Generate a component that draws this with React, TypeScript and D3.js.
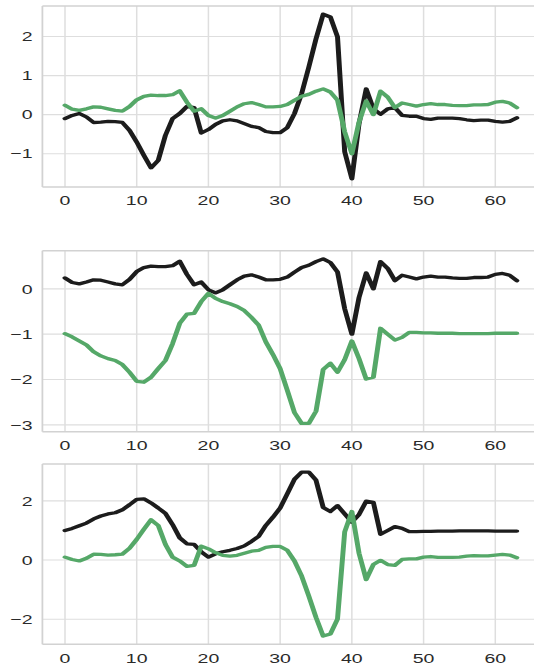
import * as d3 from "d3";

// the reference is stretched sideways, so draw in a narrower box and let the viewBox widen it
const S = 1.5;
const W = 534, H = 666;

const steps = d3.range(64);

const p1Black = [-0.10,-0.02,0.03,-0.06,-0.20,-0.19,-0.17,-0.18,-0.20,-0.40,
  -0.70,-1.04,-1.36,-1.17,-0.53,-0.10,0.03,0.21,0.18,-0.47,
  -0.38,-0.25,-0.16,-0.13,-0.16,-0.23,-0.30,-0.33,-0.43,-0.46,
  -0.46,-0.33,0.03,0.54,1.22,1.94,2.57,2.50,1.99,-0.95,
  -1.64,-0.23,0.66,0.15,0.01,0.15,0.18,-0.02,-0.04,-0.04,
  -0.10,-0.12,-0.09,-0.09,-0.09,-0.10,-0.13,-0.15,-0.14,-0.14,
  -0.17,-0.19,-0.17,-0.08];
const p1Green = [0.24,0.14,0.11,0.15,0.20,0.19,0.15,0.11,0.09,0.21,
  0.38,0.47,0.50,0.49,0.49,0.51,0.61,0.32,0.09,0.15,
  -0.02,-0.09,-0.02,0.09,0.20,0.28,0.31,0.26,0.20,0.20,
  0.21,0.26,0.37,0.47,0.52,0.60,0.66,0.58,0.37,-0.44,
  -1.00,-0.19,0.35,0.00,0.60,0.45,0.18,0.30,0.26,0.22,
  0.26,0.28,0.26,0.26,0.24,0.23,0.23,0.25,0.25,0.26,
  0.32,0.34,0.30,0.18];

const p2Black = [0.24,0.14,0.11,0.15,0.20,0.19,0.15,0.11,0.09,0.21,
  0.38,0.47,0.50,0.49,0.49,0.51,0.61,0.32,0.09,0.15,
  -0.02,-0.09,-0.02,0.09,0.20,0.28,0.31,0.26,0.20,0.20,
  0.21,0.26,0.37,0.47,0.52,0.60,0.66,0.58,0.37,-0.44,
  -1.00,-0.19,0.35,0.00,0.60,0.45,0.18,0.30,0.26,0.22,
  0.26,0.28,0.26,0.26,0.24,0.23,0.23,0.25,0.25,0.26,
  0.32,0.34,0.30,0.18];
const p2Green = [-0.99,-1.06,-1.15,-1.24,-1.39,-1.48,-1.54,-1.58,-1.67,-1.84,
  -2.04,-2.06,-1.95,-1.76,-1.58,-1.21,-0.76,-0.56,-0.54,-0.28,
  -0.10,-0.21,-0.28,-0.33,-0.39,-0.48,-0.63,-0.80,-1.17,-1.45,
  -1.76,-2.24,-2.73,-2.97,-2.97,-2.70,-1.78,-1.64,-1.84,-1.56,
  -1.15,-1.54,-1.99,-1.95,-0.87,-1.00,-1.13,-1.07,-0.96,-0.96,
  -0.97,-0.97,-0.98,-0.98,-0.98,-0.99,-0.99,-0.99,-0.99,-0.99,
  -0.98,-0.98,-0.98,-0.98];

const p3Black = [1.00,1.07,1.16,1.25,1.39,1.49,1.56,1.60,1.70,1.87,
  2.05,2.07,1.93,1.76,1.58,1.20,0.75,0.55,0.53,0.28,
  0.10,0.21,0.28,0.33,0.39,0.48,0.63,0.80,1.17,1.45,
  1.76,2.24,2.73,2.97,2.97,2.70,1.78,1.64,1.84,1.56,
  1.28,1.54,1.99,1.95,0.87,1.00,1.13,1.07,0.96,0.96,
  0.97,0.97,0.98,0.98,0.98,0.99,0.99,0.99,0.99,0.99,
  0.98,0.98,0.98,0.98];
const p3Green = [0.10,0.02,-0.03,0.06,0.20,0.19,0.17,0.18,0.20,0.40,
  0.70,1.04,1.36,1.17,0.53,0.10,-0.03,-0.21,-0.18,0.47,
  0.38,0.25,0.16,0.13,0.16,0.23,0.30,0.33,0.43,0.46,
  0.46,0.33,-0.03,-0.54,-1.22,-1.94,-2.57,-2.50,-1.99,0.95,
  1.64,0.23,-0.66,-0.15,-0.01,-0.15,-0.18,0.02,0.04,0.04,
  0.10,0.12,0.09,0.09,0.09,0.10,0.13,0.15,0.14,0.14,
  0.17,0.19,0.17,0.08];

const xTicks = [0, 10, 20, 30, 40, 50, 60];
const p1Ticks = [-1, 0, 1, 2];
const p2Ticks = [-3, -2, -1, 0];
const p3Ticks = [-2, 0, 2];

const panels = [
  { top: 6, bottom: 187, black: p1Black, green: p1Green, ticks: p1Ticks },
  { top: 250.7, bottom: 431.7, black: p2Black, green: p2Green, ticks: p2Ticks },
  { top: 464, bottom: 644.3, black: p3Black, green: p3Green, ticks: p3Ticks },
];

const GRID = "#dedede";
const SPINE = "#d2d2d2";
const TEXT = "#2a2a2a";
const BLACK = "#1c1c1c";
const GREEN = "#55a868";
const FONT = "'Liberation Sans', Arial, sans-serif";

const pad = (lo: number, hi: number) => {
  const m = (hi - lo) * 0.05;
  return [lo - m, hi + m];
};

const x = d3.scaleLinear()
  .domain(pad(0, 63))
  .range([42.4 / S, 539.4 / S]);

const fmt = d3.format("d");

function Panel({ top, bottom, black, green, ticks }: any) {
  const all = black.concat(green);
  const y = d3.scaleLinear()
    .domain(pad(d3.min(all) as number, d3.max(all) as number))
    .range([bottom, top]);
  const line = d3.line<number>()
    .x((_, i) => x(steps[i]))
    .y(d => y(d));
  const [x0, x1] = x.range();
  return (
    <g>
      {xTicks.map(t => (
        <line key={"gx" + t} x1={x(t)} x2={x(t)} y1={top} y2={bottom} stroke={GRID} strokeWidth={1} />
      ))}
      {ticks.map((t: number) => (
        <line key={"gy" + t} x1={x0} x2={x1} y1={y(t)} y2={y(t)} stroke={GRID} strokeWidth={1.1} />
      ))}
      <line x1={x0} x2={x0} y1={top} y2={bottom} stroke={SPINE} strokeWidth={1.2} />
      <line x1={x0} x2={x1} y1={bottom} y2={bottom} stroke={SPINE} strokeWidth={1.6} />
      <line x1={x0} x2={x1} y1={top} y2={top} stroke={SPINE} strokeWidth={1.6} />
      <path d={line(black) || ""} fill="none" stroke={BLACK} strokeWidth={3.3} strokeLinejoin="round" strokeLinecap="round" />
      <path d={line(green) || ""} fill="none" stroke={GREEN} strokeWidth={3.3} strokeLinejoin="round" strokeLinecap="round" />
      {ticks.map((t: number) => (
        <text key={"ty" + t} x={32.5 / S} y={y(t)} dy="0.36em" textAnchor="end" fontSize={13} fill={TEXT} fontFamily={FONT}>
          {fmt(t)}
        </text>
      ))}
      {xTicks.map(t => (
        <text key={"tx" + t} x={x(t)} y={bottom + 18.5} textAnchor="middle" fontSize={13} fill={TEXT} fontFamily={FONT}>
          {fmt(t)}
        </text>
      ))}
    </g>
  );
}

export default function App() {
  return (
    <svg
      width={W}
      height={H}
      viewBox={`0 0 ${W / S} ${H}`}
      preserveAspectRatio="none"
      style={{ position: "absolute", left: 0, top: 0, background: "#fff" }}
    >
      {panels.map((p, i) => (
        <Panel key={i} {...p} />
      ))}
    </svg>
  );
}
